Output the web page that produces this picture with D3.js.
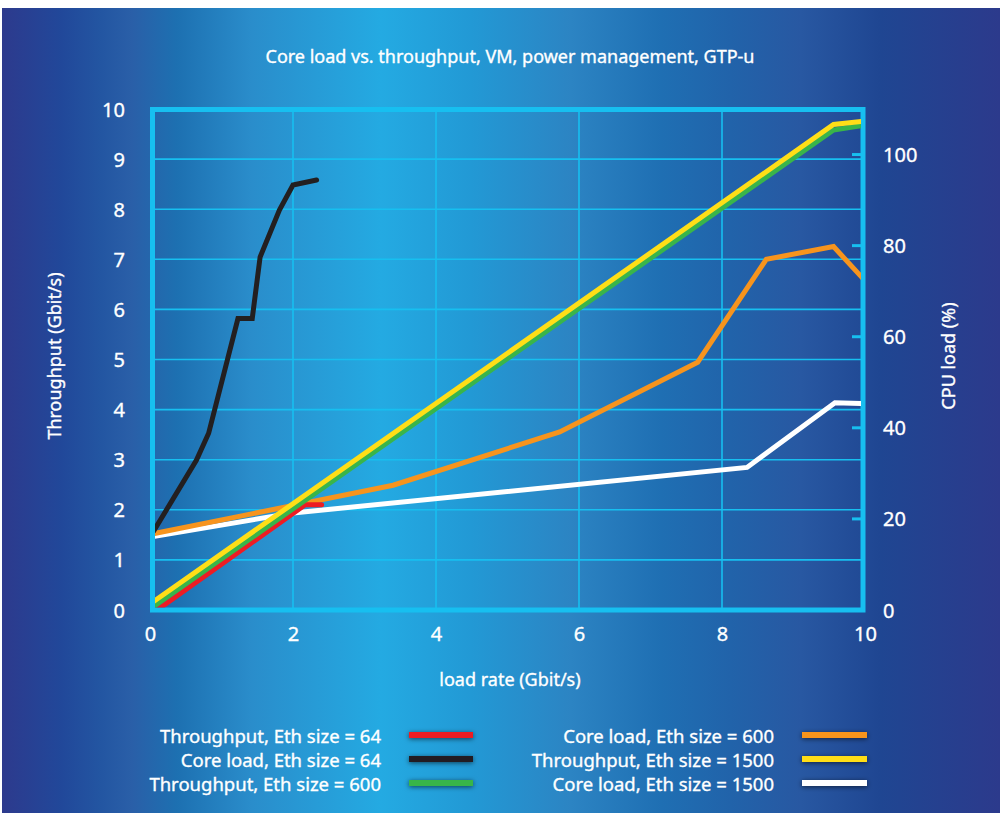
<!DOCTYPE html>
<html><head><meta charset="utf-8">
<script src="https://cdn.jsdelivr.net/npm/d3@7"></script>
<style>
html,body{margin:0;padding:0;background:#fff;}
svg{display:block;}
text{font-family:"Noto Sans",sans-serif;fill:#fff;stroke:#fff;stroke-width:0.35px;}
</style></head>
<body>
<svg id="chart" width="1000" height="813"></svg>
<script>
// ---- data ----
const title = "Core load vs. throughput, VM, power management, GTP-u";
const xTicks = [0, 2, 4, 6, 8, 10];
const yLeftTicks = [0,1,2,3,4,5,6,7,8,9,10];
const yRightTicks = [0, 20, 40, 60, 80, 100];
const xGrid = [2, 4, 6, 8];
const yGrid = [1,2,3,4,5,6,7,8,9];

// Throughput series (left axis, Gbit/s)
const thr64 = [[0.1,0.0],[2.17,2.10],[2.40,2.10]];
const thr600 = [[0,0.02],[9.56,9.58],[10,9.68]];
const thr1500 = [[0,0.12],[9.56,9.69],[10,9.76]];
// Core load series (right axis, %)
const core64 = [[0.05,17.3],[0.65,32.9],[0.82,38.8],[1.23,64.0],[1.43,64.0],[1.54,77.5],[1.81,87.8],[2.0,93.3],[2.33,94.4]];
const core600 = [[0,16.6],[3.40,27.4],[5.73,39.1],[7.66,54.4],[8.62,77.0],[9.56,79.8],[9.97,72.8]];
const core1500 = [[0,16.0],[2.0,21.3],[8.35,31.3],[9.58,45.5],[9.97,45.3]];

const legendLeft = [
  {label:"Throughput, Eth size = 64", color:"#ed1c24"},
  {label:"Core load, Eth size = 64", color:"#231f20"},
  {label:"Throughput, Eth size = 600", color:"#39b54a"}
];
const legendRight = [
  {label:"Core load, Eth size = 600", color:"#f7941d"},
  {label:"Throughput, Eth size = 1500", color:"#ffde17"},
  {label:"Core load, Eth size = 1500", color:"#ffffff"}
];

// ---- drawing ----
const svg = d3.select("#chart");
const defs = svg.append("defs");
const bg = defs.append("linearGradient").attr("id","bg").attr("x1","0").attr("x2","1").attr("y1","0").attr("y2","0");
[[0,"#2d3a8d"],[0.06,"#21489a"],[0.10,"#2356a2"],[0.13,"#2a5fa8"],[0.175,"#1d70b1"],[0.25,"#2a8dcb"],[0.38,"#24aae2"],[0.47,"#2299d5"],[0.57,"#2c84c3"],[0.66,"#1f6fb3"],[0.73,"#2163aa"],[0.80,"#2858a2"],[0.88,"#1f4692"],[1,"#2c3a8c"]]
  .forEach(([o,c]) => bg.append("stop").attr("offset",o).attr("stop-color",c));
const sh = defs.append("filter").attr("id","shadow").attr("filterUnits","userSpaceOnUse")
  .attr("x",0).attr("y",0).attr("width",1000).attr("height",813);
sh.append("feDropShadow").attr("dx",0).attr("dy",1).attr("stdDeviation",2.5).attr("flood-color","#000").attr("flood-opacity",0.6);

svg.append("rect").attr("x",2).attr("y",8).attr("width",998).attr("height",805).attr("fill","url(#bg)");

const x = d3.scaleLinear().domain([0,10]).range([150,865]);
const yL = d3.scaleLinear().domain([0,10]).range([610,109]);
const yR = d3.scaleLinear().domain([0,110]).range([610,109]);
const gridColor = "#17bff0";

svg.append("text").attr("x",510).attr("y",56).attr("text-anchor","middle").attr("dominant-baseline","central")
  .style("font-size","18px").text(title);

// grid
svg.append("g").selectAll("line").data(xGrid).join("line")
  .attr("x1",d=>x(d)).attr("x2",d=>x(d)).attr("y1",109).attr("y2",610)
  .attr("stroke",gridColor).attr("stroke-width",1.6);
svg.append("g").selectAll("line").data(yGrid).join("line")
  .attr("x1",152).attr("x2",863).attr("y1",d=>yL(d)).attr("y2",d=>yL(d))
  .attr("stroke",gridColor).attr("stroke-width",1.6);

// axes (labels via d3 axes)
const axL = svg.append("g").attr("transform","translate(125,0)")
  .call(d3.axisLeft(yL).tickValues(yLeftTicks).tickSize(0).tickPadding(0));
const axR = svg.append("g").attr("transform","translate(883,0)")
  .call(d3.axisRight(yR).tickValues(yRightTicks).tickSize(0).tickPadding(0));
const axB = svg.append("g").attr("transform","translate(0,627)")
  .call(d3.axisBottom(x).tickValues(xTicks).tickSize(0).tickPadding(0));
[axL,axR,axB].forEach(a => {
  a.select(".domain").remove();
  a.selectAll("text").attr("fill","#fff").style("font-family","'Noto Sans',sans-serif").style("font-size","20px");
});
axL.selectAll("text").attr("dy","0.35em");
axR.selectAll("text").attr("dy","0.35em");
axB.selectAll("text").attr("dy","0.71em");

// right axis small ticks
svg.append("g").selectAll("line").data(yRightTicks.filter(d=>d>0)).join("line")
  .attr("x1",852).attr("x2",863).attr("y1",d=>yR(d)).attr("y2",d=>yR(d))
  .attr("stroke",gridColor).attr("stroke-width",3);

// frame
svg.append("rect").attr("x",152.5).attr("y",109.5).attr("width",710.5).attr("height",500.5)
  .attr("fill","none").attr("stroke",gridColor).attr("stroke-width",5);

// clip
defs.append("clipPath").attr("id","plotclip").append("rect").attr("x",155).attr("y",100).attr("width",706).attr("height",507.5);

const lineL = d3.line().x(d=>x(d[0])).y(d=>yL(d[1]));
const lineR = d3.line().x(d=>x(d[0])).y(d=>yR(d[1]));
const series = [
  {data:core1500, gen:lineR, color:"#ffffff"},
  {data:core600, gen:lineR, color:"#f7941d"},
  {data:core64, gen:lineR, color:"#231f20"},
  {data:thr64, gen:lineL, color:"#ed1c24"},
  {data:thr600, gen:lineL, color:"#39b54a"},
  {data:thr1500, gen:lineL, color:"#ffde17"}
];
const pg = svg.append("g").attr("clip-path","url(#plotclip)");
series.forEach(s => pg.append("path").attr("d", s.gen(s.data)).attr("fill","none")
  .attr("stroke", s.color).attr("stroke-width",5).attr("stroke-linejoin","miter").attr("stroke-linecap","round"));

// axis titles
svg.append("text").attr("x",510).attr("y",679).attr("text-anchor","middle").attr("dominant-baseline","central")
  .style("font-size","18px").text("load rate (Gbit/s)");
svg.append("text").attr("transform","translate(54,356) rotate(-90)").attr("text-anchor","middle").attr("dominant-baseline","central")
  .style("font-size","18px").text("Throughput (Gbit/s)");
svg.append("text").attr("transform","translate(948,356) rotate(-90)").attr("text-anchor","middle").attr("dominant-baseline","central")
  .style("font-size","18px").text("CPU load (%)");

// legend
const rows = [735, 759, 783];
function legend(items, textX, lx1, lx2) {
  const g = svg.append("g");
  items.forEach((it,i) => {
    g.append("text").attr("x",textX).attr("y",rows[i]).attr("text-anchor","end").attr("dominant-baseline","central")
      .style("font-size","18.5px").text(it.label);
    g.append("rect").attr("x",lx1).attr("y",rows[i]-3).attr("width",lx2-lx1).attr("height",6)
      .attr("fill",it.color).attr("filter","url(#shadow)");
  });
}
legend(legendLeft, 381, 409, 473);
legend(legendRight, 774, 802, 867);
</script>
</body></html>
